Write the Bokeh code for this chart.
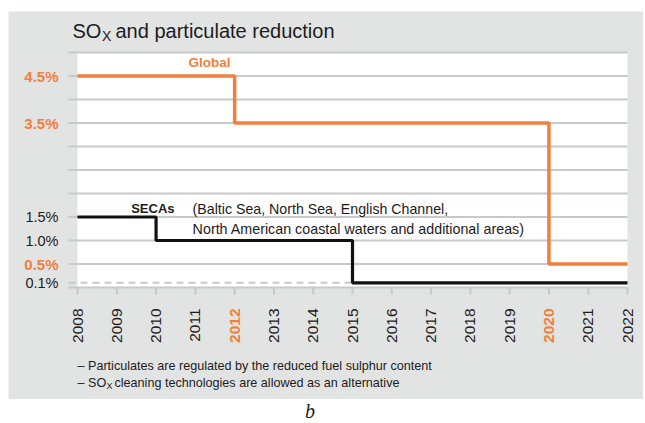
import math
from bokeh.plotting import figure
from bokeh.models import Range1d, Div, Spacer
from bokeh.core.properties import value
from bokeh.layouts import column, row
from bokeh.embed import file_html
from bokeh.resources import INLINE

# ---- data ----
years = list(range(2008, 2023))
global_x = [2008, 2012, 2020, 2022]
global_y = [4.5, 3.5, 0.5, 0.5]
seca_x = [2008, 2010, 2015, 2022]
seca_y = [1.5, 1.0, 0.1, 0.1]
seca_dashed_x = [2008, 2015]
seca_dashed_y = [0.1, 0.1]
y_min, y_max = 0.0, 5.0
grid_vals = [0.5, 1.0, 1.5, 2.0, 2.5, 3.0, 3.5, 4.0, 4.5, 5.0]
ylab_orange_vals = [4.5, 3.5, 0.5]
ylab_orange_text = ["4.5%", "3.5%", "0.5%"]
ylab_black_vals = [1.5, 1.0, 0.1]
ylab_black_text = ["1.5%", "1.0%", "0.1%"]
xlab_orange_years = [2012, 2020]
xlab_black_years = [y for y in years if y not in xlab_orange_years]

ORANGE = "#F0803C"
DARK = "#1E1B1C"
PANEL = "#E2E3E3"
GRID = "#C8C9C9"
FONT = value("Liberation Sans")

# ---- layout geometry (page pixels) ----
W, H = 635, 388           # figure spans page x 8..643, y 11..399
PL, PR, PT, PB = 77, 627, 52, 287   # plot area in page pixels
KX = (PR - PL) / (years[-1] - years[0])
KY = (PB - PT) / (y_max - y_min)


def X(px):
    return years[0] + (px - PL) / KX


def Y(py):
    return y_min + (PB - py) / KY


p = figure(width=W, height=H, x_range=Range1d(X(8), X(8 + W)), y_range=Range1d(Y(11 + H), Y(11)),
           output_backend="svg", toolbar_location=None, min_border=0)
p.border_fill_color = PANEL
p.background_fill_color = PANEL
p.outline_line_color = None
p.axis.visible = False
p.grid.visible = False

# white plot area
p.quad(left=[years[0]], right=[years[-1]], bottom=[y_min], top=[y_max],
       fill_color="white", line_color=None)

# grid lines (extend as ticks 9px left of plot area)
p.segment(x0=[X(68)] * len(grid_vals), x1=[years[-1]] * len(grid_vals),
          y0=grid_vals, y1=grid_vals, line_color=GRID, line_width=2)
# x axis line and ticks
p.segment(x0=[X(68)], x1=[years[-1]], y0=[y_min], y1=[y_min], line_color=GRID, line_width=2)
p.segment(x0=years, x1=years, y0=[y_min] * len(years), y1=[Y(PB + 7)] * len(years),
          line_color=GRID, line_width=2)

# lines
p.line([X(68)] + seca_dashed_x[1:], seca_dashed_y, line_color=GRID, line_width=2, line_dash="7 5")
p.step(global_x, global_y, mode="after", line_color=ORANGE, line_width=3.5)
p.step(seca_x, seca_y, mode="after", line_color="#111111", line_width=3.2)

# y tick labels
p.text(x=[X(58)] * len(ylab_orange_vals), y=ylab_orange_vals, text=ylab_orange_text,
       text_align="right", text_baseline="middle", text_font=FONT,
       text_font_size="15px", text_font_style="bold", text_color=ORANGE)
p.text(x=[X(58)] * len(ylab_black_vals), y=ylab_black_vals, text=ylab_black_text,
       text_align="right", text_baseline="middle", text_font=FONT,
       text_font_size="14.5px", text_color=DARK)

# x tick labels (vertical)
p.text(x=xlab_black_years, y=[Y(308)] * len(xlab_black_years), text=[str(v) for v in xlab_black_years],
       angle=math.pi / 2, text_align="right", text_baseline="middle", text_font=FONT,
       text_font_size="15.5px", text_color=DARK)
p.text(x=xlab_orange_years, y=[Y(308)] * len(xlab_orange_years), text=[str(v) for v in xlab_orange_years],
       angle=math.pi / 2, text_align="right", text_baseline="middle", text_font=FONT,
       text_font_size="15.5px", text_font_style="bold", text_color=ORANGE)

# annotations in chart
p.text(x=[2011.36], y=[4.78], text=["Global"], text_align="center", text_baseline="middle",
       text_font=FONT, text_font_size="13.5px", text_font_style="bold", text_color=ORANGE)
p.text(x=[2010.47], y=[1.68], text=["SECAs"], text_align="right", text_baseline="middle",
       text_font=FONT, text_font_size="13px", text_font_style="bold", text_color=DARK)
p.text(x=[2010.93], y=[1.68], text=["(Baltic Sea, North Sea, English Channel,"],
       text_align="left", text_baseline="middle",
       text_font=FONT, text_font_size="14.2px", text_color=DARK)
p.text(x=[2010.93], y=[1.255], text=["North American coastal waters  and additional areas)"],
       text_align="left", text_baseline="middle",
       text_font=FONT, text_font_size="14.3px", text_color=DARK)


def lab(px, py, text, size, **kw):
    p.text(x=[X(px)], y=[Y(py)], text=[text], text_font=FONT, text_font_size=size,
           text_color=DARK, text_baseline="middle", text_align="left", **kw)


# title
lab(72, 30, "SO", "20px")
lab(101.5, 35, "X", "14px")
lab(115, 30, "and particulate reduction", "20px")

# footnotes
lab(77, 365, "\u2013 Particulates are regulated by the reduced fuel sulphur content", "12.6px")
lab(77, 382, "\u2013 SO", "12.6px")
lab(106, 385, "X", "9px")
lab(114, 382, "cleaning technologies are allowed as an alternative", "12.6px")

div = Div(text="b", width=W, height=22,
          styles={"font-family": "Liberation Serif", "font-style": "italic", "font-size": "20px",
                  "padding-left": "292px", "line-height": "14px", "color": DARK})
layout = column(Spacer(height=11), row(Spacer(width=8), p), row(Spacer(width=8), div))

open("out.html", "w").write(file_html(layout, INLINE))
